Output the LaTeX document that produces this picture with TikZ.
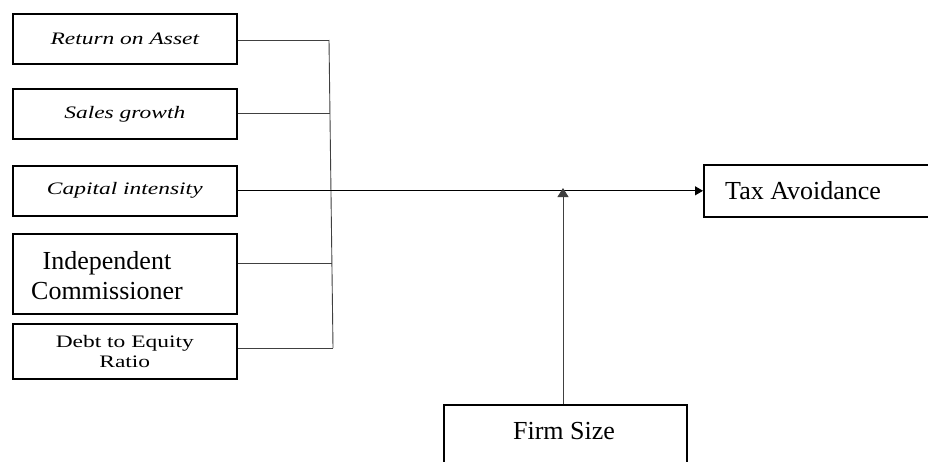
\documentclass[tikz,border=0pt]{standalone}
\usepackage{fontspec}
\setmainfont{Liberation Serif}
\newfontfamily\widefont[FakeStretch=1.34]{Liberation Serif}
\usetikzlibrary{arrows.meta}
\begin{document}
\begin{tikzpicture}[x=1pt,y=-1pt,
  varbox/.style={draw,line width=1.6pt,minimum width=224pt,inner sep=0pt,anchor=north west,align=center},
  plainbox/.style={draw,line width=1.6pt,inner sep=0pt,anchor=north west},
  smalltxt/.style={font=\widefont\fontsize{17.5}{20}\selectfont},
  bigtxt/.style={font=\fontsize{26}{30}\selectfont},
  busline/.style={draw=black!75,line width=0.9pt},
  arrmain/.style={-{Triangle[length=8pt,width=9pt]}},
  arrfirm/.style={-{Triangle[length=9pt,width=11pt]}}]
\useasboundingbox (0,0) rectangle (928,461);
\clip (0,0) rectangle (928,461);
\fill[white] (0,0) rectangle (928,461);
% left boxes
\node[varbox,smalltxt,minimum height=50pt] (roa) at (12,13) {\itshape Return on Asset};
\node[varbox,smalltxt,minimum height=50pt] (sg) at (12,88) {\itshape Sales growth};
\node[varbox,smalltxt,minimum height=50pt] (ci) at (12,165) {\itshape Capital intensity};
\node[varbox,minimum height=80pt] (ic) at (12,233) {};
\node[bigtxt,align=center,inner sep=0pt] (ictext) at (107,276) {Independent\\Commissioner};
\node[varbox,smalltxt,minimum height=55pt] (der) at (12,323) {Debt to Equity\\Ratio};
% right boxes
\node[plainbox,minimum width=240pt,minimum height=52pt] (tax) at (703,164) {};
\node[bigtxt,anchor=base west,inner sep=0pt] (taxtext) at (725,199) {Tax Avoidance};
\node[plainbox,minimum width=243pt,minimum height=70pt] (firm) at (443,404) {};
\node[bigtxt,anchor=base,inner sep=0pt] (firmtext) at (564,439) {Firm Size};
% bus
\coordinate (b1) at (329,40);
\coordinate (b2) at (330,113);
\coordinate (b4) at (331.5,263);
\coordinate (b5) at (333,348);
\draw[busline] (b1) -- (b5);
\draw[busline] (roa.east |- b1) -- (b1);
\draw[busline] (sg.east |- b2) -- (b2);
\draw[busline] (ic.east |- b4) -- (b4);
\draw[busline] (der.east |- b5) -- (b5);
% main arrow
\draw[line width=1pt,arrmain] (ci.east) -- (tax.west);
% firm size arrow
\coordinate (fa) at (563,188);
\draw[busline,arrfirm] (firm.north -| fa) -- (fa);
\end{tikzpicture}
\end{document}
